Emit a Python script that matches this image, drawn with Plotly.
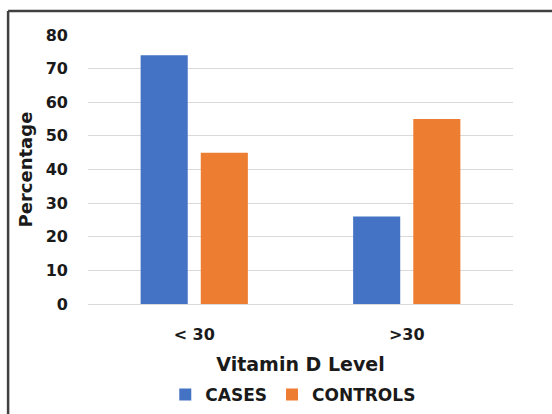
import plotly.graph_objects as go

# Vitamin D level groups and percentage of each study group
categories = ["< 30", ">30"]
cases = [74, 26]
controls = [45, 55]
y_ticks = [0, 10, 20, 30, 40, 50, 60, 70, 80]

BLUE = "#4472C4"
ORANGE = "#ED7D31"
TEXT = "#1a1a1a"
FONT = "DejaVu Sans, Liberation Sans, Arial, sans-serif"

fig = go.Figure()
fig.add_trace(go.Bar(name="<b>CASES</b>", x=categories, y=cases,
                     marker=dict(color=BLUE, line=dict(width=0))))
fig.add_trace(go.Bar(name="<b>CONTROLS</b>", x=categories, y=controls,
                     marker=dict(color=ORANGE, line=dict(width=0))))

fig.update_layout(
    width=552, height=414,
    margin=dict(l=88, r=39, t=35, b=110, autoexpand=False),
    paper_bgcolor="white", plot_bgcolor="white",
    font=dict(family=FONT, color=TEXT),
    barmode="group", bargap=0.434, bargroupgap=0.217,
    showlegend=True,
    legend=dict(orientation="h", x=0.483, xanchor="center",
                yref="container", y=0.046, yanchor="middle",
                font=dict(size=17, family=FONT, color=TEXT),
                itemwidth=30, traceorder="normal", tracegroupgap=0),
    xaxis=dict(
        type="category", showgrid=False, showline=False, ticks="", automargin=False,
        tickfont=dict(size=16, family=FONT, color=TEXT),
        ticktext=["<b>< 30</b>", "<b>>30</b>"], tickvals=categories,
        ticklabelstandoff=19,
        title=dict(text="<b>Vitamin D Level</b>", font=dict(size=19, family=FONT, color=TEXT),
                   standoff=14),
    ),
    yaxis=dict(
        range=[0, 80], tickvals=y_ticks, ticktext=[f"<b>{v}</b>" for v in y_ticks],
        showgrid=True, gridcolor="#d9d9d9", gridwidth=1,
        zeroline=True, zerolinecolor="#d9d9d9", zerolinewidth=1,
        showline=False, ticks="", automargin=False,
        tickfont=dict(size=16, family=FONT, color=TEXT),
        ticklabelstandoff=19,
    ),
    annotations=[
        dict(text="<b>Percentage</b>", xref="paper", yref="paper", x=-0.146, y=0.5,
             xanchor="center", yanchor="middle", textangle=-90, showarrow=False,
             font=dict(size=18, family=FONT, color=TEXT)),
    ],
    shapes=[
        dict(type="line", xref="paper", yref="paper", x0=-0.188, x1=1.2, y0=1.089, y1=1.089,
             line=dict(color="#404040", width=2.5)),
        dict(type="line", xref="paper", yref="paper", x0=-0.188, x1=-0.188, y0=1.089, y1=-0.5,
             line=dict(color="#404040", width=2.5)),
    ],
)

fig.write_html("out.html")
